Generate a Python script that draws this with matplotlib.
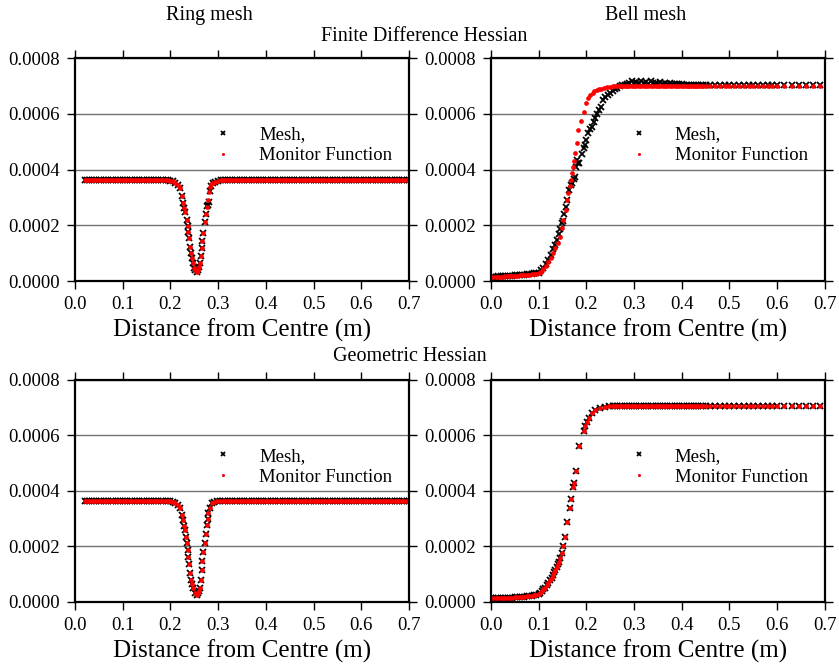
import matplotlib
matplotlib.use('Agg')
import matplotlib.pyplot as plt
from matplotlib.lines import Line2D

plt.rcParams['font.family'] = ['Liberation Serif', 'DejaVu Serif']

# ---- ring mesh: shared flat parts either side of the dip
ring_left_x = [0.020, 0.025, 0.030, 0.035, 0.040, 0.045, 0.050, 0.055, 0.060, 0.065, 0.070,
               0.075, 0.080, 0.085, 0.090, 0.095, 0.100, 0.105, 0.110, 0.115, 0.120, 0.125,
               0.130, 0.135, 0.140, 0.145, 0.150, 0.155, 0.160, 0.165, 0.170, 0.175, 0.180,
               0.185, 0.190]
ring_right_x = [0.315, 0.320, 0.325, 0.330, 0.335, 0.340, 0.345, 0.350, 0.355, 0.360, 0.365,
                0.370, 0.375, 0.380, 0.385, 0.390, 0.395, 0.400, 0.405, 0.410, 0.415, 0.420,
                0.425, 0.430, 0.435, 0.440, 0.445, 0.450, 0.455, 0.460, 0.465, 0.470, 0.475,
                0.480, 0.485, 0.490, 0.495, 0.500, 0.505, 0.510, 0.515, 0.520, 0.525, 0.530,
                0.535, 0.540, 0.545, 0.550, 0.555, 0.560, 0.565, 0.570, 0.575, 0.580, 0.585,
                0.590, 0.595, 0.600, 0.605, 0.610, 0.615, 0.620, 0.625, 0.630, 0.635, 0.640,
                0.645, 0.650, 0.655, 0.660, 0.665, 0.670, 0.675, 0.680, 0.685, 0.690, 0.695,
                0.700]

# finite difference hessian
ring_fd_dip_x = [0.195, 0.200, 0.205, 0.210, 0.215, 0.220, 0.224, 0.227, 0.229, 0.2306, 0.234,
                 0.236, 0.2376, 0.239, 0.241, 0.243, 0.245, 0.248, 0.250, 0.252, 0.255, 0.258,
                 0.260, 0.262, 0.264, 0.2656, 0.267, 0.269, 0.2725, 0.274, 0.276, 0.2795,
                 0.281, 0.283, 0.286, 0.290, 0.2935, 0.300, 0.305, 0.311]
ring_fd_dip_monitor = [0.000361, 0.000360, 0.000358, 0.000352, 0.000344, 0.000333, 0.000305,
                       0.000279, 0.000262, 0.000249, 0.000219, 0.000198, 0.000177, 0.000155,
                       0.000123, 0.000102, 0.000083, 0.0000635, 0.000048, 0.000038, 0.0000334,
                       0.000040, 0.000050, 0.0000635, 0.000090, 0.000117, 0.000145, 0.000171,
                       0.000213, 0.000240, 0.000267, 0.000290, 0.000318, 0.000338, 0.000348,
                       0.000353, 0.000356, 0.000359, 0.000361, 0.000362]
ring_fd_dip_mesh = [0.000361, 0.000360, 0.000358, 0.000352, 0.000344, 0.000333, 0.000305,
                    0.000279, 0.000262, 0.000249, 0.000219, 0.000198, 0.000177, 0.000155,
                    0.000123, 0.000102, 0.000083, 0.0000635, 0.000048, 0.000038, 0.0000334,
                    0.000040, 0.000050, 0.0000635, 0.000090, 0.000117, 0.000145, 0.000171,
                    0.000213, 0.000240, 0.000268, 0.000272, 0.000285, 0.000322, 0.000340,
                    0.000353, 0.000356, 0.000359, 0.000361, 0.000362]
ring_fd_level = 0.000362

# geometric hessian
ring_geo_dip_x = [0.195, 0.200, 0.205, 0.210, 0.215, 0.220, 0.224, 0.227, 0.229, 0.2306, 0.232,
                  0.234, 0.236, 0.2376, 0.239, 0.241, 0.243, 0.245, 0.248, 0.251, 0.255, 0.258,
                  0.260, 0.262, 0.264, 0.2656, 0.267, 0.269, 0.2725, 0.274, 0.276, 0.278,
                  0.2795, 0.282, 0.2865, 0.292, 0.298, 0.304, 0.310]
ring_geo_dip_monitor = [0.000363, 0.000362, 0.000360, 0.000355, 0.000348, 0.000338, 0.000315,
                        0.000295, 0.000275, 0.000259, 0.000235, 0.000211, 0.000187, 0.000163,
                        0.000135, 0.000103, 0.000080, 0.000065, 0.0000494, 0.000033, 0.0000252,
                        0.000032, 0.000040, 0.0000494, 0.000080, 0.000115, 0.000148, 0.000181,
                        0.000211, 0.000245, 0.000277, 0.000300, 0.000320, 0.000340, 0.000356,
                        0.000360, 0.000363, 0.000364, 0.000364]
ring_geo_level = 0.000364

# ---- bell mesh: shared sampling of the low and flat parts
bell_low_x = [0.000, 0.005, 0.010, 0.015, 0.020, 0.025, 0.030, 0.035, 0.040, 0.045, 0.050,
              0.055, 0.060, 0.065, 0.070, 0.075, 0.080, 0.085, 0.090, 0.095, 0.100]
bell_flat_x = [0.260, 0.265, 0.270, 0.275, 0.280, 0.285, 0.290, 0.295, 0.300, 0.305, 0.310,
               0.315, 0.320, 0.325, 0.330, 0.335, 0.340, 0.345, 0.350, 0.355, 0.360, 0.365,
               0.370, 0.375, 0.380, 0.385, 0.390, 0.395, 0.400, 0.405, 0.410, 0.415, 0.420,
               0.425, 0.430, 0.435, 0.440, 0.445, 0.450, 0.46, 0.47, 0.48, 0.49, 0.50, 0.51,
               0.52, 0.53, 0.54, 0.55, 0.56, 0.57, 0.58, 0.59, 0.60, 0.615, 0.63, 0.645, 0.66,
               0.675, 0.69]

# finite difference hessian
bell_fd_low_monitor = [0.000015, 0.000015, 0.000015, 0.000016, 0.000016, 0.000016, 0.000017,
                       0.000017, 0.000018, 0.000018, 0.000019, 0.000019, 0.000020, 0.000020,
                       0.000021, 0.000022, 0.000023, 0.000024, 0.000025, 0.000026, 0.000028]
bell_fd_low_mesh = [0.000016, 0.000016, 0.000016, 0.000017, 0.000017, 0.000017, 0.000018,
                    0.000018, 0.000019, 0.000019, 0.000020, 0.000021, 0.000022, 0.000022,
                    0.000023, 0.000024, 0.000025, 0.000026, 0.000027, 0.000028, 0.000030]
bell_fd_rise_x = [0.105, 0.110, 0.115, 0.120, 0.125, 0.131, 0.135, 0.140, 0.145, 0.149, 0.152,
                  0.157, 0.160, 0.162, 0.165, 0.167, 0.169, 0.171, 0.174, 0.176, 0.180, 0.183,
                  0.188, 0.195, 0.199, 0.203, 0.2075, 0.213, 0.217, 0.2215, 0.226, 0.230,
                  0.236, 0.2425, 0.250, 0.255]
bell_fd_rise_monitor = [0.000033, 0.000042, 0.000055, 0.000068, 0.000082, 0.000099, 0.000118,
                        0.000137, 0.000159, 0.000190, 0.000219, 0.000255, 0.000290, 0.000315,
                        0.000340, 0.000362, 0.000388, 0.000410, 0.000432, 0.000458, 0.000494,
                        0.000542, 0.000575, 0.000607, 0.000637, 0.000655, 0.000667, 0.000676,
                        0.000681, 0.000685, 0.000688, 0.000690, 0.000693, 0.000695, 0.000697,
                        0.000698]
bell_fd_rise_mesh_x = [0.105, 0.110, 0.115, 0.120, 0.125, 0.130, 0.134, 0.138, 0.142, 0.145,
                       0.148, 0.150, 0.153, 0.157, 0.160, 0.163, 0.167, 0.170, 0.173, 0.176,
                       0.179, 0.181, 0.183, 0.185, 0.190, 0.194, 0.197, 0.199, 0.203, 0.207,
                       0.211, 0.215, 0.218, 0.222, 0.226, 0.230, 0.235, 0.239, 0.245, 0.250,
                       0.255]
bell_fd_rise_mesh = [0.000038, 0.000048, 0.000062, 0.000077, 0.000095, 0.000115, 0.000130,
                     0.000147, 0.000170, 0.000185, 0.000207, 0.000215, 0.000240, 0.000267,
                     0.000290, 0.000325, 0.000344, 0.000352, 0.000365, 0.000374, 0.000410,
                     0.000434, 0.000425, 0.000422, 0.000455, 0.000478, 0.000488, 0.000506,
                     0.000530, 0.000545, 0.000554, 0.000570, 0.000584, 0.000600, 0.000615,
                     0.000625, 0.000648, 0.000661, 0.000668, 0.000675, 0.000681]
bell_fd_flat_monitor = [0.000698] * 60
bell_fd_flat_mesh = [0.000688, 0.000694, 0.000698, 0.000702, 0.000705, 0.000708, 0.000712,
                     0.000716, 0.000710, 0.000715, 0.000709, 0.000717, 0.000711, 0.000715,
                     0.000708, 0.000716, 0.000710, 0.000712, 0.000707, 0.000713, 0.000708,
                     0.000711, 0.000707, 0.000709, 0.000708, 0.000706, 0.000707, 0.000706,
                     0.000706, 0.000705, 0.000705, 0.000704, 0.000704, 0.000704, 0.000703,
                     0.000703, 0.000703, 0.000702, 0.000702] + [0.000702] * 21

# geometric hessian
bell_geo_low_monitor = [0.000013, 0.000013, 0.000013, 0.000014, 0.000014, 0.000014, 0.000015,
                        0.000015, 0.000016, 0.000016, 0.000017, 0.000017, 0.000018, 0.000019,
                        0.000019, 0.000020, 0.000021, 0.000022, 0.000024, 0.000026, 0.000028]
bell_geo_rise_x = [0.103, 0.107, 0.110, 0.113, 0.117, 0.120, 0.124, 0.127, 0.130, 0.133, 0.135,
                   0.138, 0.140, 0.142, 0.145, 0.148, 0.152, 0.155, 0.160, 0.166, 0.168, 0.171,
                   0.174, 0.178, 0.185, 0.195, 0.198, 0.201, 0.205, 0.211, 0.218, 0.228, 0.240,
                   0.248, 0.256]
bell_geo_rise_monitor = [0.000031, 0.000038, 0.000045, 0.000052, 0.000060, 0.000069, 0.000079,
                         0.000088, 0.000098, 0.000108, 0.000115, 0.000127, 0.000135, 0.000143,
                         0.000157, 0.000175, 0.000203, 0.000235, 0.000289, 0.000340, 0.000371,
                         0.000413, 0.000428, 0.000472, 0.000562, 0.000616, 0.000635, 0.000650,
                         0.000663, 0.000680, 0.000690, 0.000698, 0.000703, 0.000705, 0.000706]
bell_geo_flat_monitor = [0.000706] * 60

x_ticks = [0.0, 0.1, 0.2, 0.3, 0.4, 0.5, 0.6, 0.7]
y_ticks = [0.0, 0.0002, 0.0004, 0.0006, 0.0008]
y_labels = ['0.0000', '0.0002', '0.0004', '0.0006', '0.0008']

# assemble each panel's series
ring_fd_x = ring_left_x + ring_fd_dip_x + ring_right_x
ring_fd_monitor = [ring_fd_level] * len(ring_left_x) + ring_fd_dip_monitor + [ring_fd_level] * len(ring_right_x)
ring_fd_mesh = [ring_fd_level] * len(ring_left_x) + ring_fd_dip_mesh + [ring_fd_level] * len(ring_right_x)
ring_geo_x = ring_left_x + ring_geo_dip_x + ring_right_x
ring_geo_monitor = [ring_geo_level] * len(ring_left_x) + ring_geo_dip_monitor + [ring_geo_level] * len(ring_right_x)
bell_fd_x = bell_low_x + bell_fd_rise_x + bell_flat_x
bell_fd_monitor = bell_fd_low_monitor + bell_fd_rise_monitor + bell_fd_flat_monitor
bell_fd_mesh_x = bell_low_x + bell_fd_rise_mesh_x + bell_flat_x
bell_fd_mesh = bell_fd_low_mesh + bell_fd_rise_mesh + bell_fd_flat_mesh
bell_geo_x = bell_low_x + bell_geo_rise_x + bell_flat_x
bell_geo_monitor = bell_geo_low_monitor + bell_geo_rise_monitor + bell_geo_flat_monitor

fig = plt.figure(figsize=(8.39, 6.67), dpi=100)
panels = [
    ([0.0894, 0.5787, 0.398, 0.3343], ring_fd_x, ring_fd_mesh, ring_fd_x, ring_fd_monitor),
    ([0.5852, 0.5787, 0.398, 0.3343], bell_fd_mesh_x, bell_fd_mesh, bell_fd_x, bell_fd_monitor),
    ([0.0894, 0.0975, 0.398, 0.3330], ring_geo_x, ring_geo_monitor, ring_geo_x, ring_geo_monitor),
    ([0.5852, 0.0975, 0.398, 0.3330], bell_geo_x, bell_geo_monitor, bell_geo_x, bell_geo_monitor),
]

handles = [Line2D([], [], linestyle='none', marker='x', color='black', markersize=3.5,
                  markeredgewidth=1.3),
           Line2D([], [], linestyle='none', marker='o', color='red', markersize=2.2,
                  markeredgewidth=0)]

for rect, mx, my, fx, fy in panels:
    ax = fig.add_axes(rect)
    ax.plot(mx, my, linestyle='none', marker='x', color='black', markersize=4.5,
            markeredgewidth=1.3)
    ax.plot(fx, fy, linestyle='none', marker='o', color='red', markersize=3.4,
            markeredgewidth=0)
    ax.set_xlim(0, 0.7)
    ax.set_ylim(0, 0.0008)
    ax.set_xticks(x_ticks)
    ax.set_xticklabels(['%.1f' % t for t in x_ticks])
    ax.set_yticks(y_ticks)
    ax.set_yticklabels(y_labels)
    ax.tick_params(direction='out', length=6, width=1, labelsize=13.5,
                   top=True, right=True, pad=5)
    ax.yaxis.grid(True, color='0.45', linewidth=1)
    ax.set_axisbelow(True)
    for s in ax.spines.values():
        s.set_linewidth(1.6)
    ax.set_xlabel('Distance from Centre (m)', fontsize=18, labelpad=4)
    ax.legend(handles, ['Mesh,', 'Monitor Function'], loc='upper left',
              bbox_to_anchor=(0.36, 0.77), frameon=False, fontsize=13.5,
              numpoints=1, handlelength=1.2, handletextpad=1.3, labelspacing=0.2)

fig.text(0.25, 0.977, 'Ring mesh', ha='center', va='center', fontsize=14.5)
fig.text(0.769, 0.977, 'Bell mesh', ha='center', va='center', fontsize=14.5)
fig.text(0.505, 0.945, 'Finite Difference Hessian', ha='center', va='center', fontsize=14.5)
fig.text(0.489, 0.465, 'Geometric Hessian', ha='center', va='center', fontsize=14.5)

fig.savefig('out.png', dpi=100)
